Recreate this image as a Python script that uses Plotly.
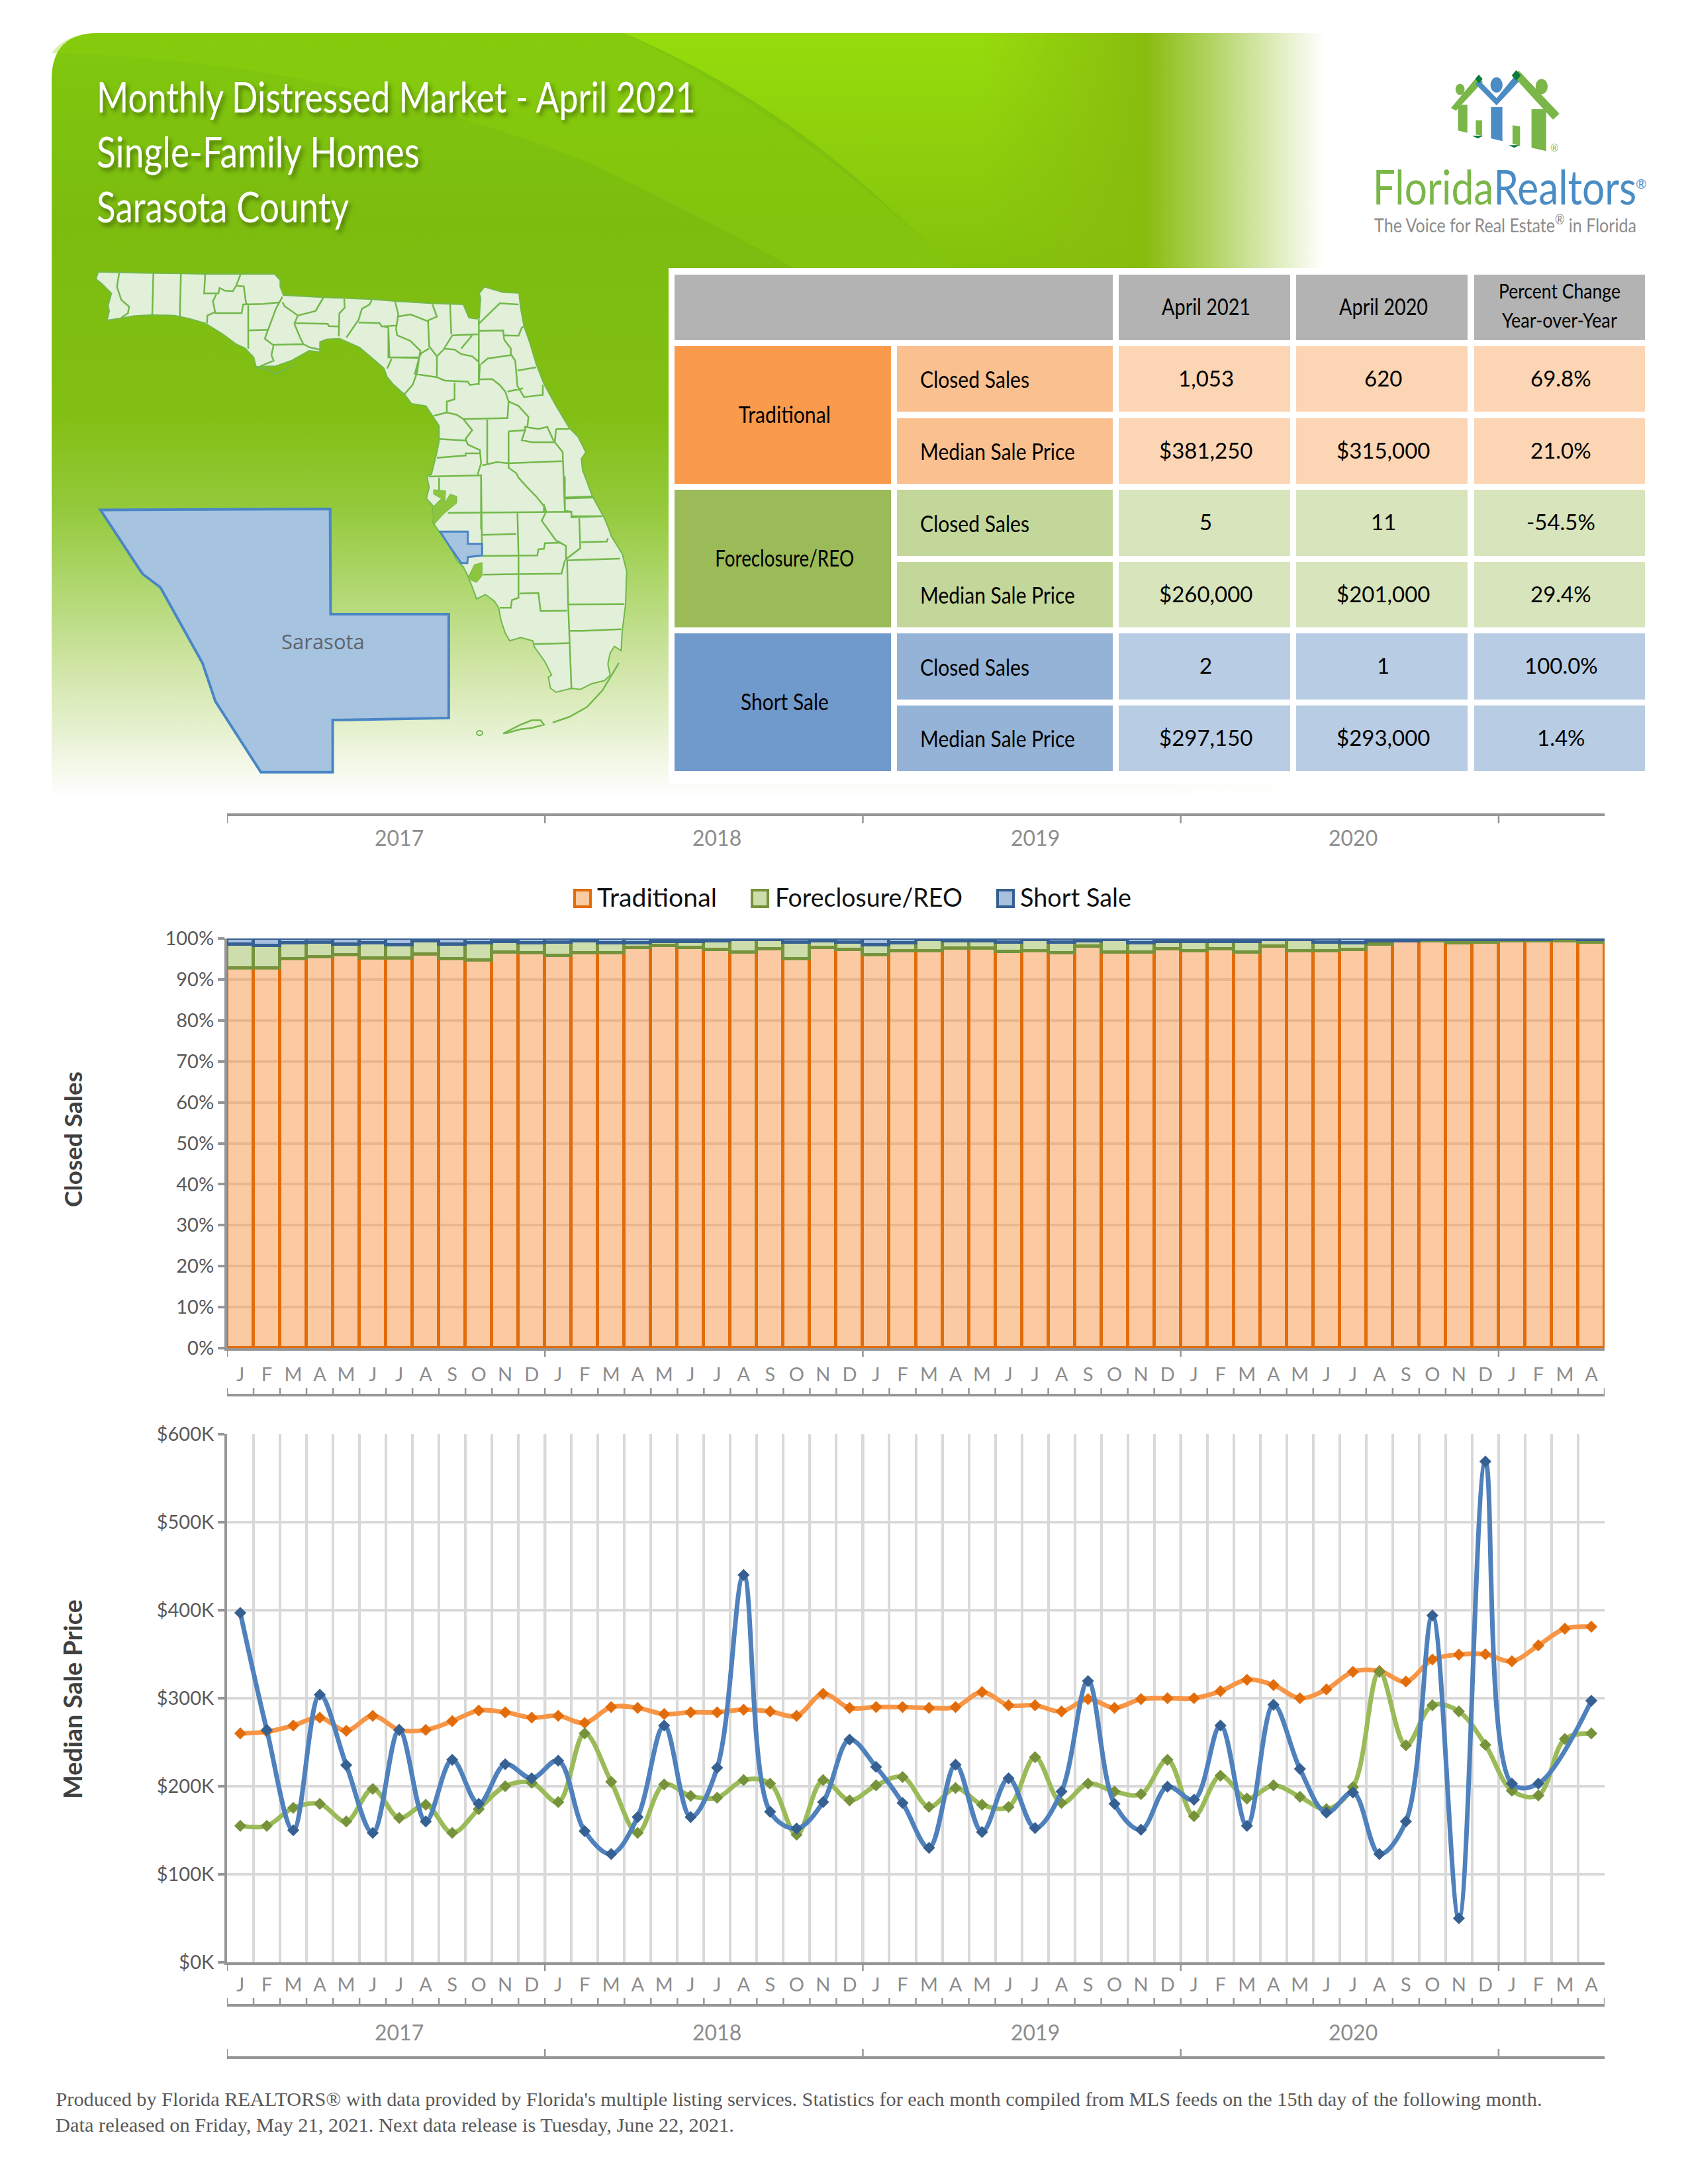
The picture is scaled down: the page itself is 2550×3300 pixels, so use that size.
import base64
import json
import plotly.graph_objects as go

# ---- chart data ----
months = ["J", "F", "M", "A", "M", "J", "J", "A", "S", "O", "N", "D",
          "J", "F", "M", "A", "M", "J", "J", "A", "S", "O", "N", "D",
          "J", "F", "M", "A", "M", "J", "J", "A", "S", "O", "N", "D",
          "J", "F", "M", "A", "M", "J", "J", "A", "S", "O", "N", "D",
          "J", "F", "M", "A"]
years = ["2017", "2018", "2019", "2020"]
year_centers = [6, 18, 30, 42]
year_edges = [-0.5, 11.5, 23.5, 35.5, 47.5]
month_edges = [i - 0.5 for i in range(53)]

share_traditional = [92.8, 92.7, 95.0, 95.4, 95.9, 95.1, 95.2, 96.2, 95.0, 94.6, 96.6, 96.4,
                     95.8, 96.4, 96.4, 97.8, 98.3, 97.8, 97.2, 96.6, 97.4, 95.0, 97.8, 97.2,
                     96.0, 97.0, 97.0, 97.6, 97.5, 96.7, 97.0, 96.4, 98.0, 96.6, 96.6, 97.4,
                     96.9, 97.4, 96.6, 98.0, 97.0, 97.0, 97.2, 98.6, 99.3, 99.4, 98.8, 99.1,
                     99.3, 99.3, 99.4, 99.1]
share_foreclosure = [5.8, 5.5, 3.8, 3.7, 2.7, 3.8, 3.2, 3.2, 3.6, 4.2, 2.6, 2.5,
                     3.3, 3.0, 2.5, 1.1, 0.9, 1.4, 2.1, 3.0, 2.2, 4.1, 1.6, 1.9,
                     2.4, 1.9, 2.7, 1.8, 1.9, 2.4, 2.6, 2.7, 1.4, 3.0, 2.3, 1.8,
                     2.3, 1.8, 2.6, 1.6, 2.6, 2.1, 1.7, 0.7, 0.1, 0.3, 0.8, 0.6,
                     0.3, 0.3, 0.6, 0.5]
share_short = [1.4, 1.8, 1.2, 0.9, 1.4, 1.1, 1.6, 0.6, 1.4, 1.2, 0.8, 1.1,
               0.9, 0.6, 1.1, 1.1, 0.8, 0.8, 0.7, 0.4, 0.4, 0.9, 0.6, 0.9,
               1.6, 1.1, 0.3, 0.6, 0.6, 0.9, 0.4, 0.9, 0.6, 0.4, 1.1, 0.8,
               0.8, 0.8, 0.8, 0.4, 0.4, 0.9, 1.1, 0.7, 0.6, 0.3, 0.4, 0.3,
               0.4, 0.4, 0.0, 0.4]

# median price in $K
price_traditional = [260, 262, 269, 278, 263, 280, 264, 264, 274, 286, 284, 278,
                     280, 272, 290, 289, 282, 284, 284, 287, 285, 280, 305, 289,
                     290, 290, 289, 290, 307, 292, 292, 285, 299, 289, 299, 300,
                     300, 308, 321, 315, 300, 310, 330, 331, 319, 344, 349.6, 350,
                     342, 360, 379, 381.25]
price_foreclosure = [155, 155, 175.5, 180, 160, 197, 164, 179, 147, 174, 200, 204,
                     182, 260, 205, 147, 202, 189, 187, 207, 203, 145, 207, 184,
                     201, 210.5, 176.5, 198, 179, 176.5, 233, 181, 203, 194, 191, 230,
                     166, 212, 186, 201, 188, 174, 199, 330, 246.5, 292, 285, 247,
                     195, 189.5, 253.7, 260]
price_short = [397, 264, 150, 304, 224, 147, 264, 160, 230, 180, 225, 209,
               229, 149, 123, 165, 269, 165, 221, 440, 171, 152, 182, 253,
               222, 181, 130, 224.5, 148, 209, 152.5, 194, 319.5, 180, 150.6, 199.5,
               184.7, 269, 155, 292.6, 219.7, 170, 193, 123, 160, 394, 50, 569,
               203, 203, None, 297.15]

table_groups = ["Traditional", "Foreclosure/REO", "Short Sale"]
table_measures = ["Closed Sales", "Median Sale Price"]
table_current = ["1,053", "$381,250", "5", "$260,000", "2", "$297,150"]
table_previous = ["620", "$315,000", "11", "$201,000", "1", "$293,000"]
table_change = ["69.8%", "21.0%", "-54.5%", "29.4%", "100.0%", "1.4%"]

# ---- fonts and colours ----
BODY = "Lato"
GREY = "#969696"
ORANGE, GREEN, BLUE = "#F79646", "#9BBB59", "#4F81BD"
ORANGE_D, GREEN_D, BLUE_D = "#E36C0A", "#76933C", "#366092"
ORANGE_L, GREEN_L, BLUE_L = "rgba(247,150,70,0.5)", "rgba(155,187,89,0.5)", "rgba(79,129,189,0.5)"
MAP_LINE = "#72B84A"

x_idx = list(range(len(months)))
fig = go.Figure()

# stacked share bars
for name, vals, fill, edge in [
    ("Traditional", share_traditional, ORANGE_L, ORANGE_D),
    ("Foreclosure/REO", share_foreclosure, GREEN_L, GREEN_D),
    ("Short Sale", share_short, BLUE_L, BLUE_D),
]:
    fig.add_trace(go.Bar(x=x_idx, y=vals, name=name, marker=dict(color=fill, line=dict(color=edge, width=5)),
                         width=1, xaxis="x", yaxis="y"))

# median price lines
for name, vals, col, mark in [
    ("Traditional", price_traditional, ORANGE, ORANGE_D),
    ("Foreclosure/REO", price_foreclosure, GREEN, GREEN_D),
    ("Short Sale", price_short, BLUE, BLUE_D),
]:
    fig.add_trace(go.Scatter(x=x_idx, y=vals, name=name, mode="lines+markers",
                             connectgaps=True, line=dict(color=col, width=7, shape="spline", smoothing=1),
                             marker=dict(symbol="diamond", size=14, color=mark), xaxis="x2", yaxis="y2"))

# page-sized invisible axes, everything decorative is placed in page pixels on them
fig.add_trace(go.Scatter(x=[], y=[], xaxis="x3", yaxis="y3", hoverinfo="skip"))

shapes = []
notes = []
fit_widths = {}  # annotation index -> [width on the page, anchor fraction]; the reference type is condensed


def text(x, y, s, size, color="#000000", font=BODY, anchor="center", fit=None, **kw):
    if fit:
        fit_widths[len(notes)] = [fit, 0 if anchor == "left" else 0.5]
    notes.append(dict(x=x, y=y, xref="x3", yref="y3", text=s, showarrow=False, xanchor=anchor, yanchor="middle",
                      font=dict(family=font, size=size, color=color, **kw.pop("fontkw", {})), **kw))


def rect(x0, y0, x1, y1, fill):
    shapes.append(dict(type="rect", xref="x3", yref="y3", x0=x0, y0=y0, x1=x1, y1=y1,
                       fillcolor=fill, line=dict(width=0)))


def conv(ox, oy, fx, fy, pts):
    return [(ox + x / fx, oy + y / fy) for x, y in pts]


def svg_path(pts, closed=False):
    s = "M" + " L".join("%.1f,%.1f" % p for p in pts)
    return s + (" Z" if closed else "")


def poly(pts, fill, line=None, width=0, closed=True):
    shapes.append(dict(type="path", xref="x3", yref="y3", path=svg_path(pts, closed), fillcolor=fill,
                       line=dict(color=line or fill, width=width)))


# ---- green panel background as an svg picture ----
panel_svg = """<svg xmlns="http://www.w3.org/2000/svg" width="2550" height="1250" viewBox="0 0 2550 1250">
<defs>
<linearGradient id="v" gradientUnits="userSpaceOnUse" x1="0" y1="50" x2="0" y2="1205">
<stop offset="0" stop-color="#80c80e"/><stop offset="0.25" stop-color="#7cbc0f"/>
<stop offset="0.5" stop-color="#82bf14"/><stop offset="0.62" stop-color="#93c93a"/>
<stop offset="0.74" stop-color="#b4d977"/><stop offset="0.83" stop-color="#d0e5a6"/>
<stop offset="0.92" stop-color="#e8f2d4"/><stop offset="1" stop-color="#ffffff"/>
</linearGradient>
<linearGradient id="s" gradientUnits="userSpaceOnUse" x1="0" y1="50" x2="0" y2="405">
<stop offset="0" stop-color="#96dc0c"/><stop offset="1" stop-color="#84c20c"/>
</linearGradient>
<linearGradient id="d" gradientUnits="userSpaceOnUse" x1="1480" y1="0" x2="1740" y2="0">
<stop offset="0" stop-color="#88bc0e" stop-opacity="0"/><stop offset="1" stop-color="#88bc0e" stop-opacity="1"/>
</linearGradient>
<linearGradient id="f" gradientUnits="userSpaceOnUse" x1="1730" y1="0" x2="2000" y2="0">
<stop offset="0" stop-color="#fff"/><stop offset="0.35" stop-color="#aaa"/><stop offset="1" stop-color="#000"/>
</linearGradient>
<mask id="m" maskUnits="userSpaceOnUse" x="0" y="0" width="2550" height="1250">
<rect x="0" y="0" width="2550" height="1250" fill="url(#f)"/>
</mask>
</defs>
<g mask="url(#m)">
<path d="M78,120 Q78,50 148,50 L2100,50 L2100,1205 L78,1205 Z" fill="url(#v)"/>
<path d="M78,80 Q500,90 900,250 Q1120,360 1200,405 L1440,405 C1325,297 1198,180 943,50 L148,50 Q100,50 78,80 Z" fill="#8ed40c" opacity="0.35"/>
<path d="M943,50 C1198,160 1325,297 1440,405 L2100,405 L2100,50 Z" fill="url(#s)"/>
<rect x="1480" y="50" width="620" height="355" fill="url(#d)"/>
</g>
</svg>"""
panel_src = "data:image/svg+xml;base64," + base64.b64encode(panel_svg.encode()).decode()

rect(1010, 405, 2550, 1185, "#ffffff")

# ---- title ----
title_shadow = "4px 5px 6px rgba(40,60,0,0.55)"
for line, y, w in [("Monthly Distressed Market - April 2021", 145, 905), ("Single-Family Homes", 228, 488),
                   ("Sarasota County", 311, 381)]:
    text(144, y, line, 64, "#ffffff", anchor="left", fit=w, fontkw=dict(shadow=title_shadow))

# ---- Florida outline, three crops with their own offsets ----
outline = (
    conv(130, 390, 3, 3, [(55, 62), (160, 65), (300, 68), (430, 70), (540, 72), (700, 72), (855, 72), (880, 100),
                          (880, 130), (895, 168), (1075, 178), (1300, 187), (1400, 195), (1560, 205)])
    + conv(580, 400, 3, 3, [(360, 180), (385, 240), (420, 245), (432, 240), (438, 150), (432, 130), (455, 100),
                            (540, 125), (612, 128), (620, 200), (635, 280), (660, 350), (690, 450), (725, 540),
                            (780, 640), (840, 740), (880, 780), (915, 850), (895, 880), (900, 930), (945, 1050),
                            (1000, 1150), (1020, 1200)])
    + conv(620, 720, 3, 3, [(910, 270), (960, 350), (980, 430), (975, 580), (960, 700), (955, 790), (925, 770),
                            (905, 800), (895, 850), (905, 900), (880, 925), (820, 940), (770, 965), (730, 960),
                            (660, 978), (635, 960), (625, 910), (640, 900), (610, 840), (560, 770), (555, 745),
                            (500, 730), (450, 745), (430, 710), (410, 650), (400, 595), (380, 565), (340, 535),
                            (300, 555), (280, 500), (260, 450), (240, 410), (210, 380), (180, 320), (130, 250),
                            (100, 205), (120, 160), (100, 130), (72, 100), (85, 50), (75, 0)])
    + conv(580, 400, 3, 3, [(215, 950), (240, 850), (250, 800), (250, 730), (220, 685), (190, 640), (125, 630),
                            (95, 590), (40, 540), (15, 510), (0, 470)])
    + conv(130, 390, 3, 3, [(1310, 465), (1240, 405), (1150, 365), (1090, 368), (1060, 380), (1060, 425), (1010, 420),
                            (930, 465), (860, 490), (770, 492), (760, 450), (720, 408), (680, 390), (620, 345),
                            (540, 295), (470, 275), (400, 260), (300, 258), (220, 262), (160, 272), (95, 282),
                            (105, 240), (100, 215), (115, 160), (70, 115), (45, 95)])
)
poly(outline, "#E2EFD9", MAP_LINE, 2)

lines_a = [
    [(150, 68), (140, 130), (160, 190), (195, 220), (190, 250), (160, 270)],
    [(305, 68), (300, 258)], [(430, 70), (425, 265)],
    [(540, 72), (535, 160), (600, 160), (605, 135), (630, 148), (665, 150), (680, 125), (715, 128), (725, 205)],
    [(700, 75), (680, 125)],
    [(590, 165), (575, 195), (585, 245), (550, 260), (548, 295)],
    [(585, 250), (705, 250), (712, 210), (805, 208), (880, 200)],
    [(725, 205), (735, 210), (735, 410)],
    [(735, 328), (825, 325), (860, 230), (890, 175)],
    [(825, 325), (810, 365), (850, 395), (840, 440), (850, 465), (790, 490)],
    [(850, 393), (985, 390), (1015, 405), (1060, 415)],
    [(890, 200), (900, 218), (960, 260), (1040, 240), (1075, 180)],
    [(960, 260), (945, 295), (1095, 298), (1100, 308), (1145, 310)],
    [(945, 300), (970, 360), (985, 390)],
    [(1170, 185), (1172, 225), (1148, 250), (1145, 355)],
    [(1295, 190), (1285, 210), (1250, 230), (1235, 280), (1180, 360)],
    [(1235, 292), (1330, 295), (1340, 310), (1410, 305)],
    [(1370, 315), (1375, 450), (1505, 452)],
    [(1385, 455), (1365, 500)],
    [(770, 495), (820, 505), (860, 525), (950, 480)],
]
lines_b = [
    [(50, 165), (65, 225), (55, 290), (60, 320), (120, 345), (165, 390), (160, 420)],
    [(65, 235), (120, 225), (195, 255), (240, 235), (220, 180)],
    [(200, 255), (205, 370), (240, 415), (270, 385), (310, 320), (430, 315)],
    [(0, 280), (20, 285), (20, 420), (160, 420), (140, 495), (240, 510), (275, 525), (380, 530), (390, 545), (430, 540), (435, 450)],
    [(300, 180), (305, 315)], [(430, 245), (430, 545)],
    [(432, 265), (525, 175), (610, 180)],
    [(430, 300), (540, 298), (545, 340), (575, 380), (575, 405), (595, 435), (605, 550), (635, 600), (720, 590), (720, 545)],
    [(545, 320), (610, 322), (625, 285), (635, 280)],
    [(270, 380), (320, 385), (350, 405), (400, 415), (430, 440)],
    [(350, 380), (400, 320)],
    [(440, 450), (470, 425), (575, 410)],
    [(240, 415), (240, 510)],
    [(160, 420), (150, 490), (130, 545), (90, 590)],
    [(205, 380), (170, 400), (160, 420)],
    [(605, 480), (690, 465)], [(630, 560), (560, 575)],
    [(430, 520), (490, 518), (525, 545), (550, 575), (565, 620), (610, 640), (655, 690), (650, 735)],
    [(320, 535), (320, 610), (285, 620), (285, 670), (225, 685)],
    [(285, 670), (330, 680), (360, 700), (400, 750), (370, 790), (380, 815), (435, 840), (440, 900), (425, 950)],
    [(360, 700), (560, 695), (565, 620)],
    [(250, 790), (370, 797)],
    [(240, 875), (370, 865), (370, 855), (435, 855)],
    [(468, 700), (468, 905)],
    [(445, 910), (510, 895), (565, 900), (810, 890)],
    [(565, 755), (640, 750), (640, 735), (700, 745), (740, 735), (770, 800)],
    [(565, 755), (565, 920), (600, 945), (610, 965), (650, 1010), (690, 1050), (730, 1100), (735, 1120)],
    [(640, 750), (625, 795), (670, 805), (775, 805), (810, 850), (820, 1115)],
    [(780, 745), (840, 745)], [(780, 745), (775, 800)],
    [(820, 1055), (945, 1050)],
    [(820, 1115), (850, 1120), (850, 1140), (985, 1140)],
    [(205, 960), (440, 955), (440, 1200)],
    [(250, 965), (250, 1025)],
]
lines_c = [
    [(170, 165), (730, 160), (730, 185), (870, 180)],
    [(700, 0), (700, 160)], [(700, 100), (830, 95)],
    [(615, 160), (595, 200), (620, 235), (660, 290), (705, 315), (705, 375), (770, 325), (765, 190)],
    [(485, 165), (490, 360), (490, 550), (460, 560), (455, 595), (405, 595)],
    [(325, 265), (480, 260)],
    [(330, 360), (575, 358), (580, 330), (605, 328), (610, 302), (680, 300), (705, 315)],
    [(775, 298), (890, 295), (895, 280)],
    [(707, 380), (950, 372)],
    [(710, 380), (715, 580), (730, 965)],
    [(700, 380), (685, 440), (330, 445)],
    [(495, 530), (580, 528), (590, 610), (710, 608)],
    [(715, 580), (970, 578)],
    [(718, 700), (780, 700), (955, 692)],
    [(560, 760), (718, 755)],
    [(320, 0), (325, 360)],
    [(605, 125), (605, 160)],
    [(645, 1115), (720, 1090), (800, 1045), (870, 970), (945, 845)],
    [(420, 1165), (500, 1125), (550, 1105), (590, 1105), (605, 1125), (550, 1140), (500, 1145), (430, 1165)],
]
county_path = " ".join(
    [svg_path(conv(130, 390, 3, 3, l)) for l in lines_a]
    + [svg_path(conv(580, 400, 3, 3, l)) for l in lines_b]
    + [svg_path(conv(620, 720, 3, 3, l)) for l in lines_c]
)
shapes.append(dict(type="path", xref="x3", yref="y3", path=county_path, line=dict(color=MAP_LINE, width=2.5)))
shapes.append(dict(type="circle", xref="x3", yref="y3", x0=720, x1=729, y0=1104, y1=1111,
                   fillcolor="#E2EFD9", line=dict(color=MAP_LINE, width=2)))

# bays and Sarasota on the small map
bay = "#8CC63F"
poly(conv(580, 400, 3, 3, [(225, 1020), (280, 1025), (275, 1080), (300, 1040), (330, 1050), (330, 1080), (270, 1130),
                           (225, 1180), (220, 1100), (260, 1060), (225, 1040)]), bay, MAP_LINE, 1)
poly(conv(620, 720, 3, 3, [(290, 400), (325, 390), (325, 450), (300, 480), (275, 470), (265, 450)]), bay, MAP_LINE, 1)
poly(conv(620, 720, 3, 3, [(135, 250), (260, 250), (260, 305), (325, 305), (325, 358), (260, 365), (258, 392),
                           (230, 392), (180, 320)]), "#A6C3E0", "#4A86C5", 3)
# enlarged county
poly(conv(0, 0, 1.568, 1.307, [(238, 1007), (335, 1130), (340, 1135), (380, 1160), (480, 1310), (510, 1385), (618, 1525),
                               (788, 1525), (788, 1422), (1063, 1418), (1063, 1213), (783, 1213), (782, 1005)]),
     "#A6C3E0", "#4A86C5", 4)
text(488, 969, "Sarasota", 31, "#60656e", font="Open Sans")

# ---- summary table ----
cell_cols = [(1690, 1949), (1958, 2217), (2227, 2485)]
row_tops = [(523, 622), (632, 731), (740, 840), (849, 948), (957, 1057), (1066, 1165)]
rect(1019, 415, 1681, 514, "#B3B3B3")
for (x0, x1), s in zip(cell_cols, ["April 2021", "April 2020", None]):
    rect(x0, 415, x1, 514, "#B3B3B3")
    if s:
        text((x0 + x1) / 2 + 2, 462, s, 34, fit=134)
text(2356, 439, "Percent Change", 30, fit=184)
text(2356, 483, "Year-over-Year", 30, fit=174)

group_fill = ["#F99A4C", "#9BBB59", "#7099CC"]
label_fill = ["#FAC090", "#C4D79B", "#95B3D7"]
cell_fill = ["#FCD5B4", "#D8E4BC", "#B8CCE4"]
group_width = [139, 210, 133]
measure_width = [165, 234]
for g, name in enumerate(table_groups):
    r0, r1 = row_tops[g * 2], row_tops[g * 2 + 1]
    rect(1019, r0[0], 1346, r1[1], group_fill[g])
    text(1185, (r0[0] + r1[1]) / 2 - 2, name, 34, fit=group_width[g])
    for m, measure in enumerate(table_measures):
        y0, y1 = row_tops[g * 2 + m]
        yc = (y0 + y1) / 2
        rect(1355, y0, 1681, y1, label_fill[g])
        text(1388, yc, measure, 34, anchor="left", fit=measure_width[m])
        for (x0, x1), col in zip(cell_cols, [table_current, table_previous, table_change]):
            rect(x0, y0, x1, y1, cell_fill[g])
            text((x0 + x1) / 2 + 2, yc - 2, col[g * 2 + m], 33)

# ---- Florida Realtors logo ----
LOGO_G, LOGO_B, LOGO_D = "#7AB648", "#4A8CC4", "#0B7A3E"
logo = lambda pts: conv(1950, 60, 2.613, 3, pts)
poly(logo([(660, 295), (697, 295), (697, 422), (660, 412)]), LOGO_G)
poly(logo([(632, 310), (742, 158), (757, 192), (652, 322)]), LOGO_G)
poly(logo([(730, 365), (755, 365), (755, 435), (730, 430)]), LOGO_G)
poly(logo([(875, 388), (905, 392), (905, 480), (875, 472)]), LOGO_G)
poly(logo([(950, 315), (1008, 315), (1008, 505), (950, 490)]), LOGO_G)
poly(logo([(882, 170), (900, 140), (1060, 335), (1035, 362)]), LOGO_G)
poly(logo([(790, 305), (835, 305), (835, 460), (790, 447)]), LOGO_B)
poly(logo([(745, 185), (812, 265), (880, 170), (900, 190), (812, 298), (728, 200)]), LOGO_B)
poly(logo([(742, 158), (757, 178), (742, 198), (728, 178)]), LOGO_D)
poly(logo([(890, 138), (908, 162), (890, 186), (872, 162)]), LOGO_D)
poly(logo([(715, 435), (760, 435), (738, 448)]), LOGO_D)
poly(logo([(860, 478), (905, 478), (882, 490)]), LOGO_D)
for cx, cy, rx, col in [(668, 225, 18, LOGO_G), (812, 205, 24, LOGO_B), (990, 212, 24, LOGO_G)]:
    (px, py), = logo([(cx, cy)])
    r = rx / 2.613
    shapes.append(dict(type="circle", xref="x3", yref="y3", x0=px - r, x1=px + r, y0=py - r * 1.25, y1=py + r * 1.25,
                       fillcolor=col, line=dict(width=0)))
text(2348, 223, "®", 15, LOGO_G)
text(2072, 281, '<span style="color:%s">Florida</span><span style="color:%s">Realtors</span>' % (LOGO_G, LOGO_B),
     72, anchor="left", fit=398)
text(2479, 277, "®", 20, LOGO_B)
text(2074, 338, "The Voice for Real Estate<sup>®</sup> in Florida", 29, "#8C8C8C", anchor="left", fit=396)

# ---- legend of the share chart, swatches sized like the reference ----
for (x0, x1), tx, w, name, fill, edge in [
    ((868, 892), 902, 181, table_groups[0], ORANGE_L, ORANGE_D),
    ((1136, 1160), 1171, 283, table_groups[1], GREEN_L, GREEN_D),
    ((1507, 1531), 1541, 168, table_groups[2], BLUE_L, BLUE_D),
]:
    shapes.append(dict(type="rect", xref="x3", yref="y3", x0=x0, x1=x1, y0=1345, y1=1370, fillcolor=fill,
                       line=dict(color=edge, width=4)))
    text(tx - 2, 1355, name, 38, "#111111", anchor="left", fit=w)


# ---- year and month rulers, from the axis positions ----
def vticks(xa, edges, y0, y1, width=2.5):
    for e in edges:
        shapes.append(dict(type="line", xref=xa, yref="y3", x0=e, x1=e, y0=y0, y1=y1, line=dict(color=GREY, width=width)))


def hrule(xa, y, width=4):
    shapes.append(dict(type="line", xref=xa, yref="y3", x0=-0.5, x1=51.5, y0=y, y1=y, line=dict(color=GREY, width=width)))


def year_labels(xa, y):
    for c, s in zip(year_centers, years):
        notes.append(dict(x=c, y=y, xref=xa, yref="y3", text=s, showarrow=False, yanchor="middle",
                          font=dict(family=BODY, size=32, color="#8C8C8C")))


# above the first chart
hrule("x", 1231)
vticks("x", year_edges, 1231, 1244)
year_labels("x", 1265)
# first chart
vticks("x", year_edges, 2037, 2050)
hrule("x", 2108)
vticks("x", month_edges, 2097, 2108)
# second chart
vticks("x2", year_edges, 2965, 2978)
hrule("x2", 3030)
vticks("x2", month_edges, 3019, 3030)
year_labels("x2", 3070)
hrule("x2", 3109)
vticks("x2", year_edges, 3096, 3109)

# darker year lines in the price chart
for e in year_edges[1:]:
    shapes.append(dict(type="line", xref="x2", yref="y2", x0=e, x1=e, y0=0, y1=600, layer="below",
                       line=dict(color="#BFBFBF", width=4)))

text(109, 1722, "<b>Closed Sales</b>", 37, "#404040", textangle=-90)
text(109, 2568, "<b>Median Sale Price</b>", 38, "#404040", textangle=-90)

# footer
text(82, 3171, "Produced by Florida REALTORS® with data provided by Florida's multiple listing services. "
               "Statistics for each month compiled from MLS feeds on the 15th day of the following month.",
     30, "#595959", font="Liberation Serif", anchor="left", fit=2246)
text(82, 3210, "Data released on Friday, May 21, 2021. Next data release is Tuesday, June 22, 2021.",
     30, "#595959", font="Liberation Serif", anchor="left", fit=1025)

# ---- layout ----
W, H = 2550, 3300
X_DOM = [343 / W, 2424 / W]
tick_font = dict(family=BODY, size=29, color="#595959")
month_font = dict(family=BODY, size=29, color="#8C8C8C")
x_common = dict(range=[-0.5, 51.5], tickmode="array", tickvals=x_idx, ticktext=months, tickfont=month_font, tickangle=0,
                ticks="outside", tickcolor="rgba(0,0,0,0)", showline=True, linecolor=GREY, linewidth=4,
                showgrid=False, zeroline=False, fixedrange=True, domain=X_DOM)
y_common = dict(tickfont=tick_font, ticks="outside", ticklen=10, tickwidth=4, tickcolor=GREY, showline=True,
                linecolor=GREY, linewidth=4, gridcolor="#D9D9D9", gridwidth=4, zeroline=False, fixedrange=True)

fig.update_layout(
    width=W, height=H, margin=dict(l=0, r=0, t=0, b=0, autoexpand=False), paper_bgcolor="#ffffff",
    plot_bgcolor="rgba(0,0,0,0)", barmode="stack", bargap=0, showlegend=False, hovermode="x",
    xaxis=dict(anchor="y", ticklen=11, **x_common),
    yaxis=dict(anchor="x", domain=[1 - 2037 / H, 1 - 1418 / H], range=[0, 100], tick0=0, dtick=10,
               ticksuffix="%", **y_common),
    xaxis2=dict(anchor="y2", ticklen=5, minor=dict(tickmode="array", tickvals=month_edges, showgrid=True,
                                                   gridcolor="#D9D9D9", gridwidth=4, ticks=""), **x_common),
    yaxis2=dict(anchor="x2", domain=[1 - 2965 / H, 1 - 2167 / H], range=[0, 600], tick0=0, dtick=100,
                tickprefix="$", ticksuffix="K", **y_common),
    xaxis3=dict(anchor="y3", domain=[0, 1], range=[0, W], visible=False, fixedrange=True),
    yaxis3=dict(anchor="x3", domain=[0, 1], range=[H, 0], visible=False, fixedrange=True),
    shapes=shapes, annotations=notes,
    images=[dict(source=panel_src, xref="paper", yref="paper", x=0, y=1, sizex=1, sizey=1250 / H,
                 xanchor="left", yanchor="top", sizing="stretch", layer="below")],
)

# squeeze the annotated texts to the condensed widths of the reference, body margin off
page_script = """
document.body.style.margin = '0';
var fits = %s;
Object.keys(fits).forEach(function (i) {
  var t = document.querySelector('.annotation[data-index="' + i + '"] text');
  if (!t) return;
  var b = t.getBBox();
  var cx = b.x + b.width * fits[i][1];
  t.setAttribute('transform', 'translate(' + cx + ' 0) scale(' + fits[i][0] / b.width + ' 1) translate(' + (-cx) + ' 0)');
});
""" % json.dumps(fit_widths)

fig.write_html("out.html", config={"displayModeBar": False}, post_script=page_script)
